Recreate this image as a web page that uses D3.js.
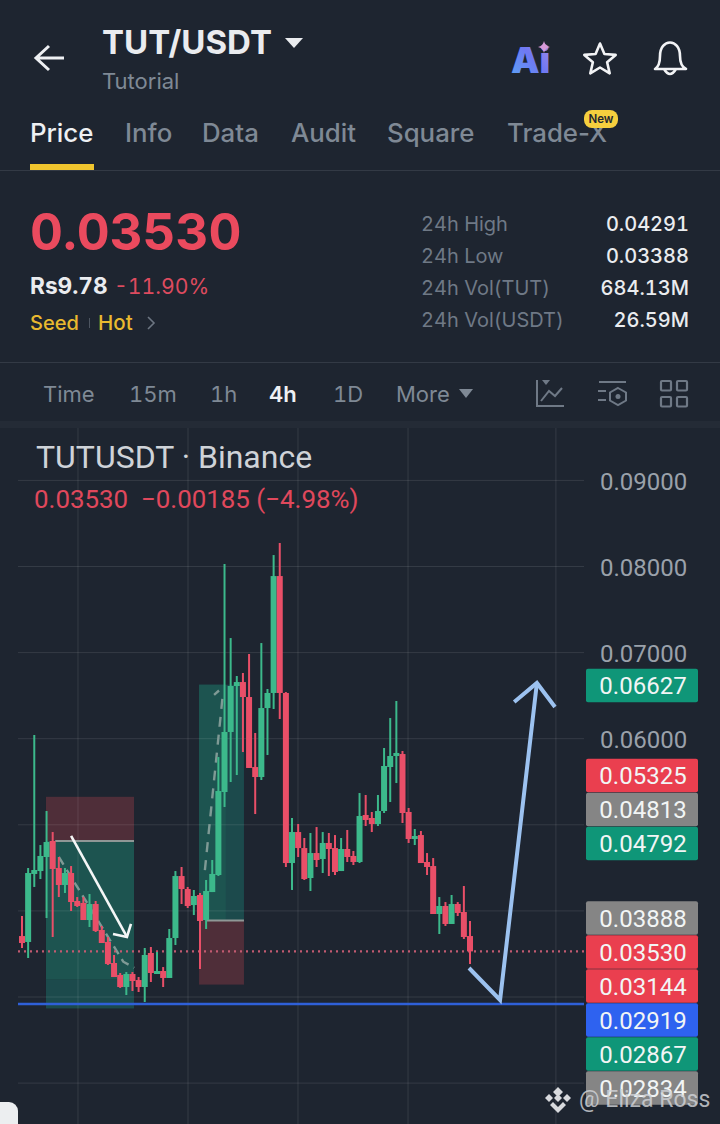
<!DOCTYPE html>
<html>
<head>
  <title>TUT/USDT</title>
  <script src="https://d3js.org/d3.v7.min.js"></script>
  <style>
    body { margin: 0; background: #1e2530; }
    svg { display: block; }
    text { font-family: Inter, Roboto, sans-serif; font-variant-numeric: tabular-nums; }
    .chart text { font-family: Roboto, sans-serif; font-variant-numeric: normal; }
  </style>
</head>
<body>
<script type="text/javascript">
  // candles, oldest first
  var opens = [0.03708,0.03639,0.04429,0.04463,0.04626,0.04812,0.04498,0.04301,0.04440,0.04115,0.04092,0.03894,0.04080,0.03778,0.03639,0.03395,0.03256,0.03116,0.03267,0.03197,0.03116,0.03511,0.03267,0.03302,0.03221,0.03685,0.04405,0.04254,0.04068,0.04185,0.03894,0.04219,0.04417,0.05381,0.06078,0.06612,0.06658,0.06484,0.05671,0.05555,0.06356,0.06531,0.07889,0.06531,0.04556,0.04916,0.04730,0.04382,0.04672,0.04603,0.04789,0.04730,0.04463,0.04719,0.04638,0.04568,0.05114,0.05079,0.05009,0.05160,0.05671,0.05799,0.05822,0.05149,0.04835,0.04881,0.04568,0.04521,0.03964,0.04057,0.03848,0.04080,0.03987,0.03708];
  var closes = [0.03627,0.04440,0.04475,0.04638,0.04800,0.04487,0.04301,0.04440,0.04103,0.04057,0.03894,0.04080,0.03767,0.03627,0.03383,0.03232,0.03116,0.03267,0.03186,0.03116,0.03488,0.03279,0.03302,0.03221,0.03685,0.04405,0.04254,0.04057,0.04173,0.03883,0.04231,0.04429,0.05392,0.06078,0.06612,0.06658,0.06484,0.05660,0.05555,0.06356,0.06531,0.07889,0.06531,0.04556,0.04916,0.04730,0.04370,0.04672,0.04591,0.04789,0.04719,0.04452,0.04719,0.04626,0.04568,0.05102,0.05056,0.05009,0.05160,0.05683,0.05799,0.05834,0.05137,0.04835,0.04870,0.04556,0.04510,0.03964,0.04057,0.03848,0.04080,0.03976,0.03697,0.03530];
  var highs = [0.03941,0.04498,0.06043,0.04765,0.05160,0.04916,0.04626,0.04498,0.04521,0.04161,0.04161,0.04196,0.04115,0.03825,0.03697,0.03488,0.03279,0.03290,0.03290,0.03232,0.03569,0.03581,0.03523,0.03348,0.03790,0.04463,0.04510,0.04278,0.04243,0.04208,0.04359,0.04591,0.05787,0.08029,0.07169,0.06728,0.06763,0.06984,0.06066,0.07111,0.06577,0.08133,0.08273,0.06542,0.05079,0.05009,0.04847,0.04905,0.04974,0.04916,0.04905,0.04881,0.04847,0.04940,0.04696,0.05369,0.05346,0.05149,0.05346,0.05892,0.06240,0.06438,0.05857,0.05195,0.04951,0.04928,0.04672,0.04614,0.04161,0.04103,0.04185,0.04103,0.04289,0.03883];
  var lows = [0.03569,0.03453,0.04278,0.04370,0.03917,0.03697,0.04161,0.04208,0.03999,0.04045,0.03894,0.03813,0.03755,0.03627,0.03372,0.03232,0.03105,0.03023,0.03070,0.03058,0.02942,0.03174,0.03267,0.03116,0.03221,0.03604,0.04080,0.04034,0.03952,0.03325,0.03790,0.04219,0.04405,0.05207,0.05497,0.05578,0.05845,0.05660,0.05125,0.05520,0.05811,0.06345,0.06229,0.04510,0.04243,0.04626,0.04359,0.04231,0.04510,0.04440,0.04405,0.04417,0.04463,0.04568,0.04533,0.04556,0.04986,0.04916,0.04986,0.05137,0.05265,0.05485,0.05021,0.04789,0.04765,0.04556,0.04417,0.03964,0.03732,0.03825,0.03848,0.03941,0.03674,0.03383];

  var priceTicks = [0.09, 0.08, 0.07, 0.06, 0.05, 0.04, 0.03, 0.02];
  var timeTicks = [9.12, 27.05, 44.97, 62.9, 87];
  var lastPrice = 0.0353;
  var supportPrice = 0.02919;

  // price tags on the right
  var tagPrices = [0.06627, 0.05325, 0.04813, 0.04792, 0.03888, 0.0353, 0.03144, 0.02919, 0.02867, 0.02834];
  var tagKinds = ["green", "red", "grey", "green", "grey", "red", "red", "blue", "green", "grey"];

  // position boxes: [start, end, top, entry, bottom]
  var shortBox = [3.91, 18.25, 0.05325, 0.04813, 0.02867];
  var longBox = [28.85, 36.17, 0.06627, 0.03888, 0.03144];
  var shortBoxFade = 0.032;
  var longBoxFade = 33.2;

  // drawn on top, [candle index, price]
  var whiteLine = [[8, 0.0487], [17.1, 0.03697]];
  var whiteHead = [[14.83, 0.03732], [17.1, 0.03697], [17.76, 0.03848]];
  var blueLine = [[72.84, 0.03337], [77.9, 0.02965], [83.9, 0.06647]];
  var blueHead = [[80.2, 0.06426], [83.9, 0.06647], [86.85, 0.06368]];
  var dashA = [[6, 0.04626], [16.5, 0.0341], [18.3, 0.0334]];
  var dashB = [[29.8, 0.04475], [32.75, 0.06531]];
  var dashC = [[31.3, 0.0651], [32.1, 0.0656]];

  var tabs = ["Price", "Info", "Data", "Audit", "Square", "Trade-X"];
  var tabX = [30, 125, 202, 291, 387, 507];
  var intervals = ["Time", "15m", "1h", "4h", "1D", "More"];
  var intervalX = [43, 129, 210, 269, 333, 396];
  var statLabels = ["24h High", "24h Low", "24h Vol(TUT)", "24h Vol(USDT)"];
  var statValues = ["0.04291", "0.03388", "684.13M", "26.59M"];

  var w = 720;
  var h = 1124;
  var green = "#3cb98b";
  var red = "#e94f68";
  var tagColor = { green: "#0f9678", red: "#ea3f4f", grey: "#858585", blue: "#2e62f0" };

  var svg = d3.select("body").append("svg")
    .attr("width", w)
    .attr("height", h);

  svg.append("rect").attr("width", w).attr("height", h).attr("fill", "#1e2530");

  function label(x, y, str, size, fill, weight, anchor) {
    return svg.append("text")
      .attr("x", x).attr("y", y)
      .attr("font-size", size)
      .attr("fill", fill)
      .attr("font-weight", weight || 400)
      .attr("text-anchor", anchor || "start")
      .text(str);
  }

  // ---- header ----
  svg.append("path").attr("d", "M64 58H36M49 46L36 58L49 70")
    .attr("fill", "none").attr("stroke", "#eef0f3").attr("stroke-width", 3);
  label(102, 54, "TUT/USDT", 33, "#eaecef", 700);
  svg.append("path").attr("d", "M285 38H303L294 48Z").attr("fill", "#eaecef");
  label(102, 89, "Tutorial", 22, "#7f8995");

  var defs = svg.append("defs");
  var grad = defs.append("linearGradient").attr("id", "aiGrad")
    .attr("x1", "0").attr("y1", "1").attr("x2", "1").attr("y2", "0");
  grad.append("stop").attr("offset", "0").attr("stop-color", "#5aa6f5");
  grad.append("stop").attr("offset", "0.55").attr("stop-color", "#6f78f2");
  grad.append("stop").attr("offset", "1").attr("stop-color", "#a98be8");
  label(511, 73, "Ai", 36, "url(#aiGrad)", 900);
  svg.append("path").attr("d", "M544 41Q545 46 550 47Q545 48 544 53Q543 48 538 47Q543 46 544 41Z").attr("fill", "#d79ad8");

  var starPts = d3.range(10).map(function(i) {
    var r = i % 2 ? 7.5 : 16.5;
    var a = i * Math.PI / 5;
    return [600 + r * Math.sin(a), 60 - r * Math.cos(a)];
  });
  svg.append("path").attr("d", d3.line().curve(d3.curveLinearClosed)(starPts))
    .attr("fill", "none").attr("stroke", "#f2f3f5").attr("stroke-width", 2.6).attr("stroke-linejoin", "round");
  svg.append("path").attr("d", "M655 69Q660 66 660 56C660 38 680 38 680 56Q680 66 686 69Z M664 69Q670 79 676 69")
    .attr("fill", "none").attr("stroke", "#f2f3f5").attr("stroke-width", 2.6).attr("stroke-linejoin", "round");

  // ---- tabs ----
  tabs.forEach(function(t, i) {
    label(tabX[i], 142, t, 25.8, i === 0 ? "#eef0f3" : "#7f8995", 500).style("font-variant-numeric", "normal");
  });
  svg.append("rect").attr("x", 30).attr("y", 164).attr("width", 64).attr("height", 6).attr("fill", "#f0c52e");
  svg.append("rect").attr("x", 584).attr("y", 110).attr("width", 34).attr("height", 18).attr("rx", 8).attr("fill", "#f6cf3e");
  label(601, 123, "New", 11.5, "#1e2530", 600, "middle");
  svg.append("rect").attr("x", 0).attr("y", 170).attr("width", w).attr("height", 1).attr("fill", "#333a45");

  // ---- price block ----
  label(30, 250, "0.03530", 51, "#ea4a5e", 700);
  label(30, 294, "Rs9.78", 22.7, "#eaecef", 700);
  label(114, 294, "-11.90%", 21.2, "#dd4b5f", 400);
  label(30, 330, "Seed", 20, "#e9b92f", 500);
  svg.append("rect").attr("x", 89).attr("y", 318).attr("width", 1).attr("height", 10).attr("fill", "#4d5560");
  label(98, 330, "Hot", 20.5, "#e9b92f", 500);
  svg.append("path").attr("d", "M148 317L154 323L148 329").attr("fill", "none").attr("stroke", "#6d7682").attr("stroke-width", 1.6);

  statLabels.forEach(function(s, i) {
    label(421, 231 + i * 32, s, 20, "#6f7986");
    label(689, 231 + i * 32, statValues[i], 20, "#eaecef", 500, "end");
  });
  svg.append("rect").attr("x", 0).attr("y", 362).attr("width", w).attr("height", 1).attr("fill", "#333a45");

  // ---- interval row ----
  intervals.forEach(function(t, i) {
    label(intervalX[i], 402, t, 22, i === 3 ? "#eef0f3" : "#7f8995", i === 3 ? 600 : 400);
  });
  svg.append("path").attr("d", "M459 389H473L466 398Z").attr("fill", "#7f8995");

  var iconStroke = "#6f7986";
  svg.append("path").attr("d", "M537 380V406H564M541 401L549 391L555 396L562 388")
    .attr("fill", "none").attr("stroke", iconStroke).attr("stroke-width", 2);
  svg.append("path").attr("d", "M542 380H550L546 385Z").attr("fill", iconStroke);
  svg.append("path").attr("d", "M599 382H626M598 391H606M598 400H606M618 388L626 392.5V400.5L618 405L610 400.5V392.5Z")
    .attr("fill", "none").attr("stroke", iconStroke).attr("stroke-width", 2);
  svg.append("circle").attr("cx", 618).attr("cy", 396.5).attr("r", 2.5).attr("fill", iconStroke);
  [[661, 381], [677, 381], [661, 397], [677, 397]].forEach(function(p) {
    svg.append("rect").attr("x", p[0]).attr("y", p[1]).attr("width", 10).attr("height", 9.5).attr("rx", 1)
      .attr("fill", "none").attr("stroke", iconStroke).attr("stroke-width", 2.2);
  });
  svg.append("rect").attr("x", 0).attr("y", 421).attr("width", w).attr("height", 7).attr("fill", "#242b36");

  // ---- chart ----
  var x = d3.scaleLinear().domain([0, opens.length - 1]).range([22, 470]);
  var y = d3.scaleLinear().domain([0.03, 0.09]).range([997, 480.4]);
  var left = 18, right = 584;

  var chart = svg.append("g").attr("class", "chart");

  function box(b, y0, y1, color) {
    chart.append("rect")
      .attr("x", x(b[0])).attr("width", x(b[1]) - x(b[0]))
      .attr("y", y(y0)).attr("height", y(y1) - y(y0))
      .attr("fill", color);
  }
  box(shortBox, shortBox[2], shortBox[3], "#4f2e39");
  box(shortBox, shortBox[3], shortBoxFade, "#1d5450");
  box(shortBox, shortBoxFade, shortBox[4], "#1c4a4c");
  box(longBox, longBox[2], longBox[3], "#1c4a4c");
  box([longBox[0], longBoxFade], longBox[2], longBox[3], "#1d5450");
  box(longBox, longBox[3], longBox[4], "#4f2e39");

  // grid goes over the boxes, they are see-through in the app
  chart.selectAll("line.hgrid").data(priceTicks).enter().append("line")
    .attr("class", "hgrid")
    .attr("x1", left).attr("x2", right)
    .attr("y1", function(d) { return y(d); })
    .attr("y2", function(d) { return y(d); })
    .attr("stroke", "#fff").attr("stroke-opacity", 0.1).attr("stroke-width", 1);

  chart.selectAll("line.vgrid").data(timeTicks).enter().append("line")
    .attr("class", "vgrid")
    .attr("x1", function(d) { return x(d); })
    .attr("x2", function(d) { return x(d); })
    .attr("y1", 428).attr("y2", h)
    .attr("stroke", "#fff").attr("stroke-opacity", 0.1).attr("stroke-width", 1);

  // labels hidden behind the tags are left out of the axis
  var yAxis = d3.axisRight(y)
    .tickValues(priceTicks.filter(function(d) { return d >= 0.06; }))
    .tickFormat(d3.format(".5f"))
    .tickSize(0)
    .tickPadding(0);
  var axisG = chart.append("g").attr("transform", "translate(600,1.5)").call(yAxis);
  axisG.select(".domain").remove();
  axisG.selectAll("text").attr("font-size", 24).attr("fill", "#9aa1aa");

  function entryLine(b, x0) {
    chart.append("line")
      .attr("x1", x(x0)).attr("x2", x(b[1]))
      .attr("y1", y(b[3])).attr("y2", y(b[3]))
      .attr("stroke", "#8f9796").attr("stroke-width", 2);
  }
  entryLine(shortBox, shortBox[0] + 1.5);
  entryLine(longBox, 30.1);

  var pathLine = d3.line()
    .x(function(d) { return x(d[0]); })
    .y(function(d) { return y(d[1]); });

  [[dashA, "9 6"], [dashB, "10 8"], [dashC, null]].forEach(function(a) {
    chart.append("path").attr("d", pathLine(a[0]))
      .attr("fill", "none").attr("stroke", "#7f9a95").attr("stroke-width", 2.4).attr("stroke-dasharray", a[1]);
  });

  chart.append("line")
    .attr("x1", left).attr("x2", right)
    .attr("y1", y(lastPrice)).attr("y2", y(lastPrice))
    .attr("stroke", "#c25a70").attr("stroke-width", 2.4).attr("stroke-dasharray", "2 4");
  chart.append("line")
    .attr("x1", left).attr("x2", right)
    .attr("y1", y(supportPrice)).attr("y2", y(supportPrice))
    .attr("stroke", "#2f60d8").attr("stroke-width", 2.4);

  // wicks then bodies
  var idx = d3.range(opens.length);
  function candleColor(i) { return closes[i] >= opens[i] ? green : red; }

  chart.selectAll("line.wick").data(idx).enter().append("line")
    .attr("class", "wick")
    .attr("x1", function(i) { return x(i); })
    .attr("x2", function(i) { return x(i); })
    .attr("y1", function(i) { return y(highs[i]); })
    .attr("y2", function(i) { return y(lows[i]); })
    .attr("stroke", candleColor)
    .attr("stroke-width", 2);

  chart.selectAll("rect.body").data(idx).enter().append("rect")
    .attr("class", "body")
    .attr("x", function(i) { return x(i) - 3; })
    .attr("width", 6)
    .attr("y", function(i) { return y(Math.max(opens[i], closes[i])); })
    .attr("height", function(i) { return Math.max(2, Math.abs(y(opens[i]) - y(closes[i]))); })
    .attr("fill", candleColor);

  // hand drawn arrows
  [[whiteLine, "#f4f6f6", 2.6], [whiteHead, "#f4f6f6", 2.6], [blueLine, "#9cc2f0", 4], [blueHead, "#9cc2f0", 4]].forEach(function(a) {
    chart.append("path").attr("d", pathLine(a[0]))
      .attr("fill", "none").attr("stroke", a[1]).attr("stroke-width", a[2]);
  });

  // legend
  chart.append("text").attr("x", 36).attr("y", 468).attr("font-size", 32).attr("fill", "#cfd3d8")
    .text("TUTUSDT \u00b7 Binance");
  chart.append("text").attr("x", 34).attr("y", 508).attr("font-size", 25.9).attr("fill", "#e0485c")
    .style("white-space", "pre")
    .text("0.03530  \u22120.00185 (\u22124.98%)");

  // price tags: the last price stays put, the others get pushed away from it
  var tagH = 34;
  var lastIdx = tagPrices.indexOf(lastPrice);
  var tagY = tagPrices.map(function(p) { return y(p); });
  for (var i = lastIdx - 1; i >= 0; i--) tagY[i] = Math.min(tagY[i], tagY[i + 1] - tagH);
  for (var j = lastIdx + 1; j < tagY.length; j++) tagY[j] = Math.max(tagY[j], tagY[j - 1] + tagH);

  var tags = chart.selectAll("g.tag").data(tagPrices).enter().append("g")
    .attr("class", "tag")
    .attr("transform", function(d, i) { return "translate(586," + (tagY[i] + 1) + ")"; });
  tags.append("rect")
    .attr("y", -tagH / 2).attr("width", 112).attr("height", tagH - 0.5).attr("rx", 2)
    .attr("fill", function(d, i) { return tagColor[tagKinds[i]]; });
  tags.append("text")
    .attr("x", 57).attr("y", 8.5).attr("text-anchor", "middle")
    .attr("font-size", 24).attr("fill", "#f2f5f5")
    .text(d3.format(".5f"));

  // watermark and scroll handle
  svg.append("path")
    .attr("d", "M558 1087l5 5-5 5-5-5zM549 1094l4 4-4 4-4-4zM567 1094l4 4-4 4-4-4zM558 1094l4 4-4 4-4-4zM553 1102l5 5 5-5 3 3-8 8-8-8z")
    .attr("fill", "#d8dadd");
  label(579, 1107, "@ Eliza Ross", 23, "#d0d3d7", 400).style("font-family", "Roboto, sans-serif").attr("opacity", 0.82);
  svg.append("rect").attr("x", -8).attr("y", 1102).attr("width", 26).attr("height", 40).attr("rx", 9).attr("fill", "#eceef0");
</script>
</body>
</html>
